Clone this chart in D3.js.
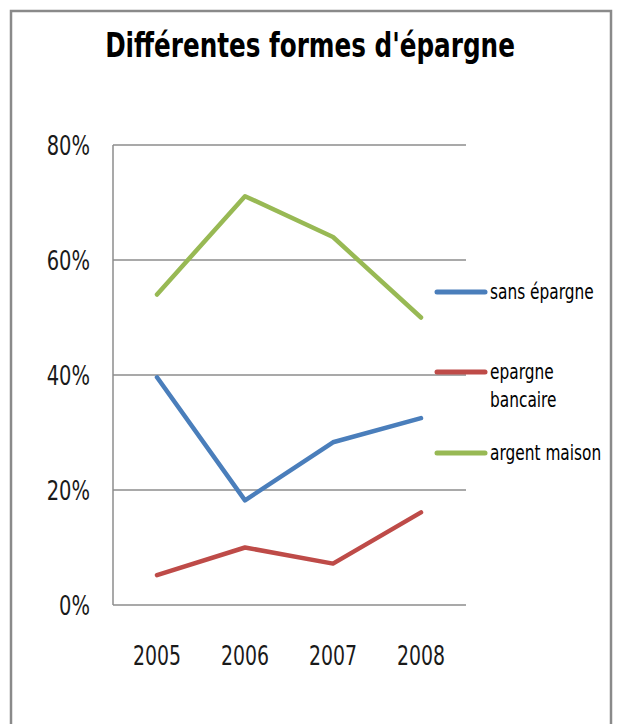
<!DOCTYPE html>
<html>
	<head>
		<meta charset="utf-8">
		<title>Différentes formes d'épargne</title>
		<style>
			body{margin:0;background:#fff;}
			text{font-family:"DejaVu Sans",sans-serif;fill:#1a1a1a;}
		</style>
	</head>
	<body>
		<script src="https://cdn.jsdelivr.net/npm/d3@7/dist/d3.min.js" charset="utf-8"></script>
		<script>
			//données
			var years = ["2005","2006","2007","2008"];
			var sansEpargne = [39.6,18.2,28.3,32.5];
			var epargneBancaire = [5.2,10.0,7.2,16.1];
			var argentMaison = [54.0,71.1,64.0,50.0];
			var yTicks = [0,20,40,60,80];
			var seriesNames = [["sans épargne"],["epargne","bancaire"],["argent maison"]];
			var seriesColors = ["#4a7ebb","#be4b48","#98b954"];

			var series = [sansEpargne,epargneBancaire,argentMaison];

			var W = 617, H = 724;
			var plot = {left:113,right:465,top:145,bottom:605};

			//resserrer le texte horizontalement (police étroite absente)
			function condense(sel,k){
				sel.each(function(){
					var t = d3.select(this);
					var x = +t.attr("x") || 0;
					t.attr("x",x/k)
					 .attr("transform","scale("+k+",1)")
				})
			}

			var svg = d3.select("body")
						.append("svg")
						.attr("width",W)
						.attr("height",H)

			//cadre
			svg.append("rect")
				.attr("x",11).attr("y",11)
				.attr("width",600).attr("height",730)
				.attr("fill","none")
				.attr("stroke","#8a8a8a")
				.attr("stroke-width",2.5)

			//titre
			var title = svg.append("g")
				.attr("transform","translate(310,57)")
				.append("text")
				.attr("text-anchor","middle")
				.attr("font-size",34)
				.attr("font-weight","bold")
				.style("fill","#000")
				.text("Différentes formes d'épargne")
			title.call(condense,410/title.node().getComputedTextLength())

			//échelles
			var xScale = d3.scaleBand()
							.domain(years)
							.range([plot.left,plot.right])
			var yScale = d3.scaleLinear()
							.domain([0,80])
							.range([plot.bottom,plot.top])

			var xc = function(d){ return xScale(d)+xScale.bandwidth()/2; };

			//grille
			svg.append("g")
				.selectAll("line")
				.data(yTicks)
				.enter()
				.append("line")
				.attr("x1",plot.left).attr("x2",plot.right+1)
				.attr("y1",function(d){ return yScale(d); })
				.attr("y2",function(d){ return yScale(d); })
				.attr("stroke","#8c8c8c")
				.attr("stroke-width",1.5)

			svg.append("line")
				.attr("x1",plot.left).attr("x2",plot.left)
				.attr("y1",plot.top).attr("y2",plot.bottom)
				.attr("stroke","#8c8c8c")
				.attr("stroke-width",1.5)

			//axe y
			var yAxis = d3.axisLeft(yScale)
							.tickValues(yTicks)
							.tickSize(0)
							.tickPadding(23)
							.tickFormat(function(d){ return d+"%"; })
			var gy = svg.append("g")
				.attr("transform","translate("+plot.left+",0)")
				.call(yAxis)
			gy.select(".domain").remove()
			gy.selectAll("text")
				.attr("font-size",26).attr("font-family",null).attr("fill",null)
				.attr("dy","0.37em")
				.call(condense,0.75)

			//axe x
			var xAxis = d3.axisBottom(xScale)
							.tickSize(0)
			var gx = svg.append("g")
				.attr("transform","translate(0,"+plot.bottom+")")
				.call(xAxis)
			gx.select(".domain").remove()
			gx.selectAll("text")
				.attr("font-size",27).attr("font-family",null).attr("fill",null)
				.attr("y",60).attr("dy",0)
				.call(condense,0.7)

			//courbes
			var line = d3.line()
						.x(function(d,i){ return xc(years[i]); })
						.y(function(d){ return yScale(d); })

			svg.append("g")
				.selectAll("path")
				.data(series)
				.enter()
				.append("path")
				.attr("d",line)
				.attr("fill","none")
				.attr("stroke",function(d,i){ return seriesColors[i]; })
				.attr("stroke-width",4.5)
				.attr("stroke-linecap","round")
				.attr("stroke-linejoin","round")

			//légende
			var legendY = [292,372,453];
			var lg = svg.append("g")
						.selectAll("g")
						.data(seriesNames)
						.enter()
						.append("g")
						.attr("transform",function(d,i){ return "translate(437,"+legendY[i]+")"; })
			lg.append("line")
				.attr("x1",0).attr("x2",48)
				.attr("stroke",function(d,i){ return seriesColors[i]; })
				.attr("stroke-width",5)
				.attr("stroke-linecap","round")
			lg.selectAll("text")
				.data(function(d){ return d; })
				.enter()
				.append("text")
				.attr("font-size",22)
				.attr("x",53)
				.attr("y",function(d,i){ return 7+i*28; })
				.style("fill","#000")
				.text(function(d){ return d; })
				.call(condense,0.7)
		</script>
	</body>
</html>
